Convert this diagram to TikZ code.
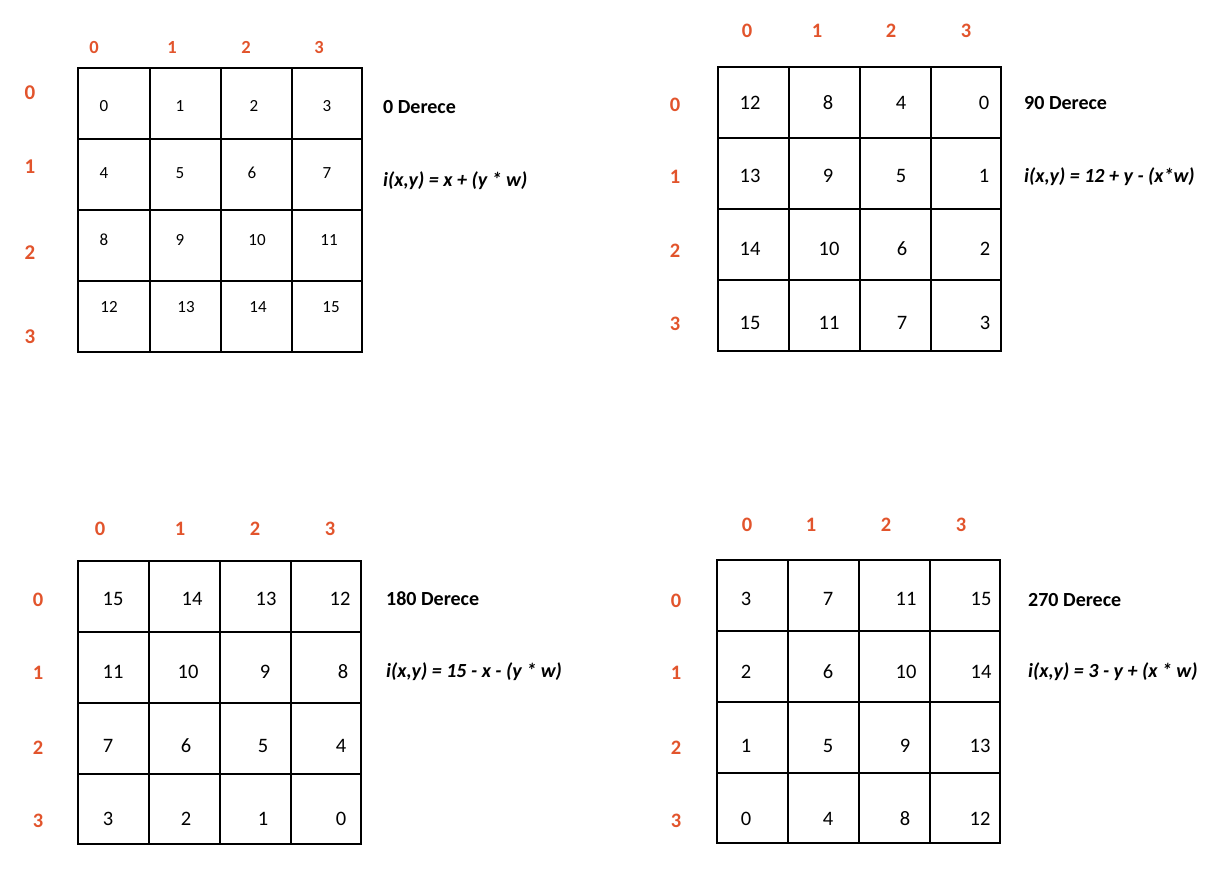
\documentclass[tikz,border=0pt]{standalone}
\usepackage{fontspec}
\setmainfont{Carlito}
\definecolor{idx}{RGB}{226,84,44}
\begin{document}
\begin{tikzpicture}[x=1pt,y=-1pt,
  gl/.style={line width=2.4pt, line cap=rect},
  cellA/.style={font=\fontsize{17}{17}\selectfont, inner sep=0pt},
  cellB/.style={font=\fontsize{20.5}{20.5}\selectfont, inner sep=0pt},
  labA/.style={text=idx, font=\bfseries\fontsize{18.5}{18.5}\selectfont, inner sep=0pt},
  labR/.style={text=idx, font=\bfseries\fontsize{21}{21}\selectfont, inner sep=0pt},
  labB/.style={text=idx, font=\bfseries\fontsize{20.5}{20.5}\selectfont, inner sep=0pt},
  ttl/.style={font=\bfseries\fontsize{20}{20}\selectfont, anchor=west, inner sep=0pt},
  frm/.style={font=\bfseries\itshape\fontsize{20}{20}\selectfont, anchor=west, inner sep=0pt}]
\useasboundingbox[fill=white] (0,0) rectangle (1224,871);

% ---------- Grid 1 : 0 Derece ----------
\draw[gl] (78,68) rectangle (362,352);
\foreach \x in {150,221,292} \draw[gl] (\x,68) -- (\x,352);
\foreach \y in {139,210,281} \draw[gl] (78,\y) -- (362,\y);
\foreach \t/\x/\y in {0/104/106,1/180/106,2/254/106,3/327/106,
  4/104/173,5/180/173,6/252/173,7/327/173,
  8/104/240,9/180/240,10/257/240,11/329/240,
  12/109/307,13/186/307,14/258/307,15/331/307}
  \node[cellA] (ga\t) at (\x,\y) {\t};
\foreach \t/\x in {0/94,1/172,2/246,3/319}
  \node[labA] (gacol\t) at (\x,47) {\t};
\foreach \t/\y in {0/93,1/167,2/253,3/337}
  \node[labR] (garow\t) at (30,\y) {\t};
\node[ttl] (gattl) at (383,107) {0 Derece};
\node[frm] (gafrm) at (383,181) {i(x,y) = x + (y * w)};

% ---------- Grid 2 : 90 Derece ----------
\draw[gl] (718,67) rectangle (1001,351);
\foreach \x in {789,860,931} \draw[gl] (\x,67) -- (\x,351);
\foreach \y in {138,209,280} \draw[gl] (718,\y) -- (1001,\y);
\foreach \t/\x/\y in {12/750/103,8/828/103,4/901/103,0/984/103,
  13/750/176,9/828/176,5/901/176,1/984/176,
  14/750/249,10/829/249,6/902/249,2/985/249,
  15/750/323,11/829/323,7/902/323,3/985/323}
  \node[cellB] (gb\t) at (\x,\y) {\t};
\foreach \t/\x in {0/747,1/817,2/891,3/966}
  \node[labB] (gbcol\t) at (\x,31) {\t};
\foreach \t/\y in {0/105,1/177,2/251,3/324}
  \node[labB] (gbrow\t) at (675,\y) {\t};
\node[ttl] (gbttl) at (1024,103) {90 Derece};
\node[frm] (gbfrm) at (1024,177) {i(x,y) = 12 + y - (x*w)};

% ---------- Grid 3 : 180 Derece ----------
\draw[gl] (78,561) rectangle (361,844);
\foreach \x in {149,220,291} \draw[gl] (\x,561) -- (\x,844);
\foreach \y in {632,703,774} \draw[gl] (78,\y) -- (361,\y);
\foreach \t/\x/\y in {15/113/599,14/192/599,13/266/599,12/340/599,
  11/113/672,10/188/672,9/265/672,8/343/672,
  7/108/746,6/186/746,5/263/746,4/341/746,
  3/108/819,2/186/819,1/263/819,0/341/819}
  \node[cellB] (gc\t) at (\x,\y) {\t};
\foreach \t/\x in {0/100,1/180,2/255,3/330}
  \node[labB] (gccol\t) at (\x,529) {\t};
\foreach \t/\y in {0/600,1/673,2/748,3/821}
  \node[labB] (gcrow\t) at (38,\y) {\t};
\node[ttl] (gcttl) at (386,599) {180 Derece};
\node[frm] (gcfrm) at (386,672) {i(x,y) = 15 - x - (y * w)};

% ---------- Grid 4 : 270 Derece ----------
\draw[gl] (717,560) rectangle (1000,843);
\foreach \x in {788,859,930} \draw[gl] (\x,560) -- (\x,843);
\foreach \y in {631,702,773} \draw[gl] (717,\y) -- (1000,\y);
\foreach \t/\x/\y in {3/746/599,7/828/599,11/906/599,15/981/599,
  2/746/672,6/828/672,10/906/672,14/981/672,
  1/746/746,5/828/746,9/905/746,13/980/746,
  0/746/819,4/828/819,8/905/819,12/980/819}
  \node[cellB] (gd\t) at (\x,\y) {\t};
\foreach \t/\x in {0/747,1/811,2/886,3/961}
  \node[labB] (gdcol\t) at (\x,525) {\t};
\foreach \t/\y in {0/601,1/673,2/748,3/821}
  \node[labB] (gdrow\t) at (676,\y) {\t};
\node[ttl] (gdttl) at (1028,600) {270 Derece};
\node[frm] (gdfrm) at (1028,672) {i(x,y) = 3 - y + (x * w)};
\end{tikzpicture}
\end{document}
